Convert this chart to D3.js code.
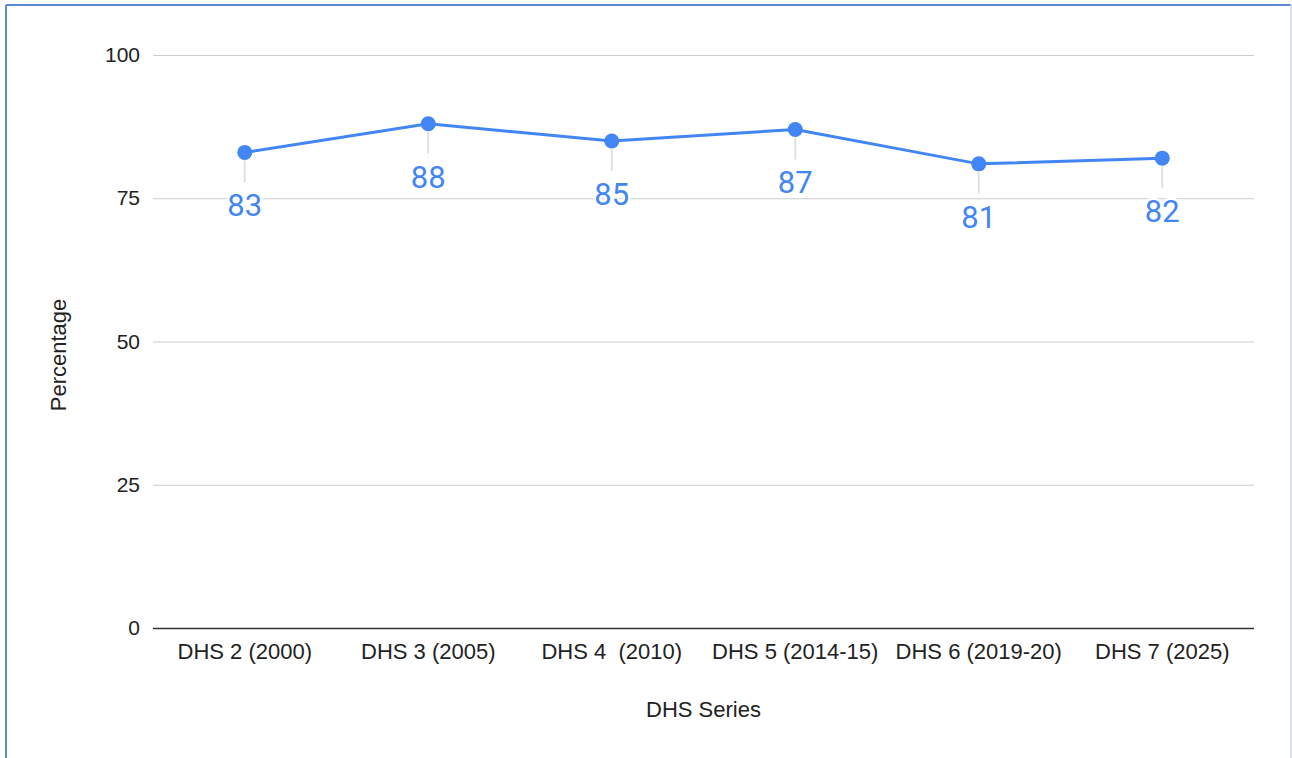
<!DOCTYPE html>
<html>
<head>
<meta charset="utf-8">
<script src="https://cdn.jsdelivr.net/npm/d3@7"></script>
<style>
  body { margin: 0; background: #fff; }
  svg { display: block; }
</style>
</head>
<body>
<div id="chart"></div>
<script>
// data
const categories = ["DHS 2 (2000)", "DHS 3 (2005)", "DHS 4  (2010)", "DHS 5 (2014-15)", "DHS 6 (2019-20)", "DHS 7 (2025)"];
const values = [83, 88, 85, 87, 81, 82];
const yTicks = [0, 25, 50, 75, 100];

const W = 1292, H = 758;
const margin = { top: 55, right: 38, bottom: 130, left: 153 };
const width = W - margin.left - margin.right;
const height = H - margin.top - margin.bottom;
const blue = "#4285f4";
const font = "Arial, 'Liberation Sans', sans-serif";

const root = d3.select("#chart").append("svg")
    .attr("width", W)
    .attr("height", H);

// frame around the card
root.append("line").attr("x1", 6).attr("x2", 1291).attr("y1", 5).attr("y2", 5)
    .attr("stroke", "#5b8bd0").attr("stroke-width", 2);
root.append("line").attr("x1", 6).attr("x2", 6).attr("y1", 5).attr("y2", H)
    .attr("stroke", "#5b8bd0").attr("stroke-width", 2);
root.append("line").attr("x1", 1291).attr("x2", 1291).attr("y1", 5).attr("y2", H)
    .attr("stroke", "#c9d9ef").attr("stroke-width", 1.5);

const svg = root.append("g")
    .attr("transform", `translate(${margin.left},${margin.top})`);

const x = d3.scaleBand()
    .domain(categories)
    .range([0, width]);

const y = d3.scaleLinear()
    .domain([0, 100])
    .range([height, 0]);

// grid + y labels
const yAxis = svg.append("g")
    .call(d3.axisLeft(y).tickValues(yTicks).tickSize(-width).tickPadding(13));
yAxis.select(".domain").remove();
yAxis.selectAll(".tick line")
    .attr("stroke", d => d === 0 ? "#333" : "#ccc")
    .attr("stroke-width", d => d === 0 ? 1.5 : 1.2);
yAxis.selectAll(".tick text")
    .attr("fill", "#222")
    .style("font-family", font)
    .style("font-size", "21px");

// x labels
const xAxis = svg.append("g")
    .attr("transform", `translate(0,${height})`)
    .call(d3.axisBottom(x).tickSize(0).tickPadding(15));
xAxis.select(".domain").remove();
xAxis.selectAll(".tick text")
    .attr("fill", "#222")
    .style("white-space", "pre")
    .style("font-family", font)
    .style("font-size", "22px");

const cx = d => x(d) + x.bandwidth() / 2;

// leader lines
svg.selectAll(".leader")
    .data(categories)
    .enter().append("line")
    .attr("class", "leader")
    .attr("x1", d => cx(d)).attr("x2", d => cx(d))
    .attr("y1", (d, i) => y(values[i]) + 8)
    .attr("y2", (d, i) => y(values[i]) + 30)
    .attr("stroke", "#e0e0e0")
    .attr("stroke-width", 2);

// line
svg.append("path")
    .datum(values)
    .attr("fill", "none")
    .attr("stroke", blue)
    .attr("stroke-width", 3)
    .attr("d", d3.line().x((d, i) => cx(categories[i])).y(d => y(d)));

svg.selectAll(".dot")
    .data(values)
    .enter().append("circle")
    .attr("class", "dot")
    .attr("cx", (d, i) => cx(categories[i]))
    .attr("cy", d => y(d))
    .attr("r", 7.5)
    .attr("fill", blue);

// value labels with white halo
svg.selectAll(".val")
    .data(values)
    .enter().append("text")
    .attr("class", "val")
    .attr("x", (d, i) => cx(categories[i]))
    .attr("y", d => y(d) + 64)
    .attr("text-anchor", "middle")
    .attr("fill", blue)
    .attr("stroke", "#fff")
    .attr("stroke-width", 5)
    .attr("paint-order", "stroke")
    .style("font-family", "Roboto, sans-serif")
    .style("font-size", "31px")
    .text(d => d);

// axis titles
root.append("text")
    .attr("x", margin.left + width / 2)
    .attr("y", 717)
    .attr("text-anchor", "middle")
    .attr("fill", "#222")
    .style("font-family", font)
    .style("font-size", "22px")
    .text("DHS Series");

root.append("text")
    .attr("transform", "translate(66,355) rotate(-90)")
    .attr("text-anchor", "middle")
    .attr("fill", "#222")
    .style("font-family", font)
    .style("font-size", "22px")
    .text("Percentage");
</script>
</body>
</html>
